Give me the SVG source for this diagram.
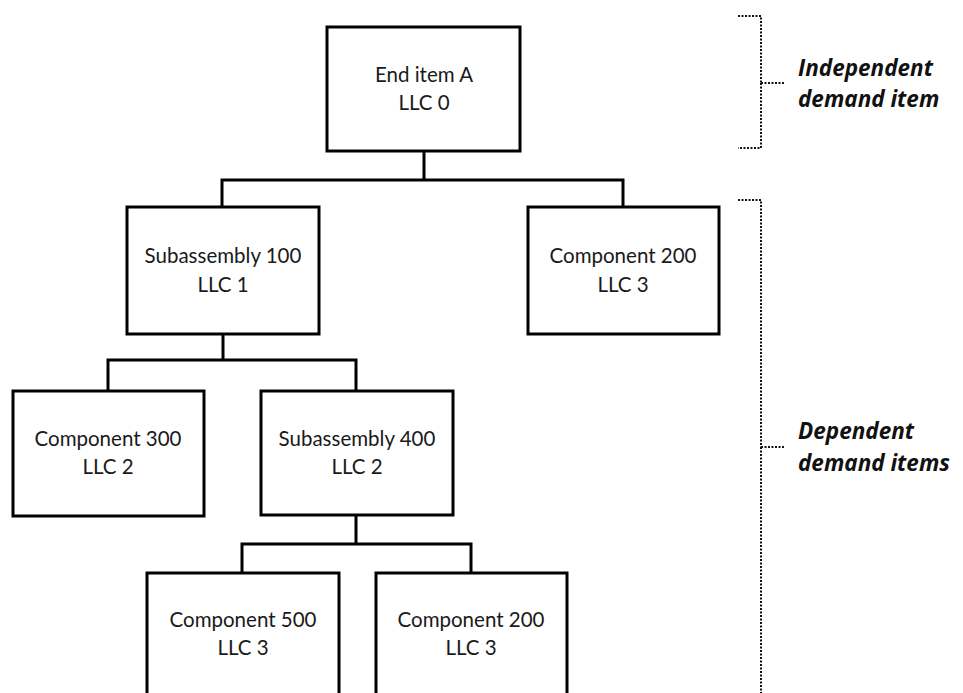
<svg xmlns="http://www.w3.org/2000/svg" width="963" height="693" viewBox="0 0 963 693">
  <style>
    .box { fill: #ffffff; stroke: #000000; stroke-width: 3; }
    .link { fill: none; stroke: #000000; stroke-width: 3; }
    .brace { fill: none; stroke: #111111; stroke-width: 2; stroke-dasharray: 2 1.5; }
    .lbl { font-family: Lato, "Open Sans", sans-serif; font-size: 20.5px; fill: #1a1a1a; text-anchor: middle; }
    .side { font-family: "Open Sans", "Liberation Sans", sans-serif; font-size: 22.5px; font-weight: bold; font-style: italic; fill: #111111; }
  </style>
  <rect width="963" height="693" fill="#ffffff"/>

  <!-- tree connectors -->
  <g id="connectors">
    <path class="link" d="M424 151 V180 M222 207 V180 H623 V207"/>
    <path class="link" d="M223 334 V360 M108 391 V360 H356 V391"/>
    <path class="link" d="M356 515 V544 M242 573 V544 H471 V573"/>
  </g>

  <g id="end-item-a">
    <rect class="box" x="327" y="27" width="193" height="124"/>
    <text class="lbl" x="424" y="82">End item A</text>
    <text class="lbl" x="424" y="110">LLC 0</text>
  </g>

  <g id="subassembly-100">
    <rect class="box" x="127" y="207" width="192" height="127"/>
    <text class="lbl" x="223" y="263">Subassembly 100</text>
    <text class="lbl" x="223" y="292">LLC 1</text>
  </g>

  <g id="component-200-top">
    <rect class="box" x="528" y="207" width="191" height="127"/>
    <text class="lbl" x="623" y="263">Component 200</text>
    <text class="lbl" x="623" y="292">LLC 3</text>
  </g>

  <g id="component-300">
    <rect class="box" x="13" y="391" width="191" height="125"/>
    <text class="lbl" x="108" y="446">Component 300</text>
    <text class="lbl" x="108" y="474">LLC 2</text>
  </g>

  <g id="subassembly-400">
    <rect class="box" x="261" y="391" width="192" height="124"/>
    <text class="lbl" x="357" y="446">Subassembly 400</text>
    <text class="lbl" x="357" y="474">LLC 2</text>
  </g>

  <g id="component-500">
    <rect class="box" x="147" y="573" width="192" height="140"/>
    <text class="lbl" x="243" y="627">Component 500</text>
    <text class="lbl" x="243" y="655">LLC 3</text>
  </g>

  <g id="component-200-bottom">
    <rect class="box" x="376" y="573" width="191" height="140"/>
    <text class="lbl" x="471" y="627">Component 200</text>
    <text class="lbl" x="471" y="655">LLC 3</text>
  </g>

  <!-- dotted braces grouping the demand levels -->
  <g id="independent-brace">
    <path class="brace" d="M738 16 H761 V83 M761 83 H785 M761 83 V148 H738"/>
    <text class="side" x="798" y="76">Independent</text>
    <text class="side" x="798" y="107">demand item</text>
  </g>

  <g id="dependent-brace">
    <path class="brace" d="M738 200 H761 V447 M761 447 H785 M761 447 V700"/>
    <text class="side" x="798" y="439">Dependent</text>
    <text class="side" x="798" y="471">demand items</text>
  </g>
</svg>
